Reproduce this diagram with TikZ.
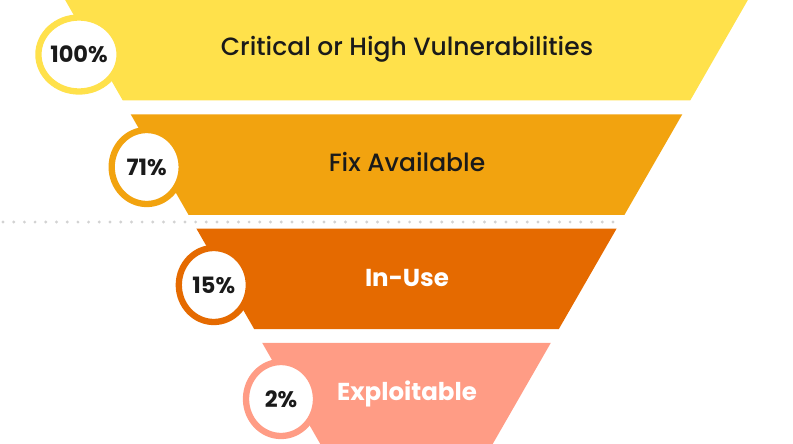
\documentclass[tikz,border=0pt]{standalone}
\usepackage{fontspec}
\setmainfont{Poppins}
\newfontfamily\medfont{Poppins Medium}
\usetikzlibrary{shapes.geometric}
\definecolor{bandA}{HTML}{FFE14B}
\definecolor{bandB}{HTML}{F2A30F}
\definecolor{bandC}{HTML}{E56A00}
\definecolor{bandD}{HTML}{FF9C85}
\definecolor{ink}{HTML}{1A1A1A}
\definecolor{dotgrey}{HTML}{D2D2D2}

\begin{document}
\begin{tikzpicture}[x=1pt,y=-1pt,
  ring/.style={ellipse,draw=#1,fill=white,line width=6.3pt,minimum width=70pt,
    minimum height=74pt,inner sep=0pt,text=ink,font=\fontsize{22.5}{26}\selectfont\bfseries},
  lbl/.style={anchor=base,font=\fontsize{25}{30}\selectfont\medfont,text=ink},
  lblw/.style={lbl,text=white,font=\fontsize{24.5}{29}\selectfont\bfseries}]
            \clip (0,0) rectangle (793,444);
            % funnel bands
            \fill[bandA] (64,-2) -- (749,-2) -- (690.2,100.5) -- (122.8,100.5) -- cycle;
            \fill[bandB] (130.7,114.3) -- (682.3,114.3) -- (624.5,214.8) -- (188.5,214.8) -- cycle;
            \fill[bandC] (196.4,228.6) -- (616.6,228.6) -- (558.8,329.1) -- (254.2,329.1) -- cycle;
            \fill[bandD] (262.2,342.9) -- (550.8,342.9) -- (483.5,460) -- (329.5,460) -- cycle;
            % separator
            \coordinate (sepL) at (3,222);
            \coordinate (sepR) at (618,222);
            \draw[dotgrey,line width=3.2pt,line cap=round,dash pattern=on 0pt off 10.7pt] (sepL) -- (sepR);
            % percentages and labels
            \path
            (79,54.5)    node[ring=bandA] (P1) {100\%}
            (146.7,167)  node[ring=bandB] (P2) {71\%}
            (213.8,285)  node[ring=bandC] (P3) {15\%}
            (281,399)    node[ring=bandD] (P4) {2\%};
            \path
            (407,55.7)   node[lbl]  (L1) {Critical or High Vulnerabilities}
            (407,171)    node[lbl]  (L2) {Fix Available}
            (407,286)    node[lblw] (L3) {In-Use}
            (407,400)    node[lblw] (L4) {Exploitable};
            \end{tikzpicture}
\end{document}
